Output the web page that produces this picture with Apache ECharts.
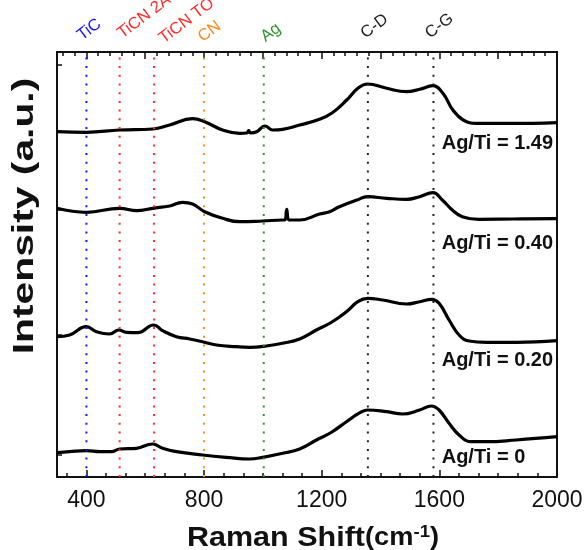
<!DOCTYPE html>
<html><head><meta charset="utf-8">
<script src="https://cdn.jsdelivr.net/npm/echarts@6/dist/echarts.min.js"></script>
<style>html,body{margin:0;padding:0;background:#fff}#c{width:587px;height:550px}</style>
</head><body><div id="c"></div>
<script>
// ---------------- DATA ----------------
const xTickLabels = [400, 800, 1200, 1600, 2000];
const yTickValues = [22, 142, 267, 412];

const seriesNames = ['Ag/Ti = 1.49', 'Ag/Ti = 0.40', 'Ag/Ti = 0.20', 'Ag/Ti = 0'];

const s149_x = [300,400,513,625,683,761,802,863,921,945,952,958,979,1007,1033,1067,1125,1190,1235,1285,1323,1356,1421,1488,1533,1578,1612,1646,1681,1726,1805,1917,2000];
const s149_y = [345.3,344.7,347,348,352,358.3,355.3,347,343.7,344,346.5,344,345.3,351,347,347.7,352,357.5,364,377,388.7,393,388.7,385.3,387.7,391.3,383.7,367,357,353.7,353.7,353.7,354.3];

const s040_x = [300,400,513,571,625,683,727,761,802,863,921,1000,1067,1075,1081,1088,1098,1125,1193,1227,1260,1320,1356,1421,1488,1533,1578,1610,1644,1678,1735,1850,2000];
const s040_y = [268.7,264.7,268.7,266.3,268.7,271,274.7,273,265.3,258.7,255.3,256,257,257,267.7,257,257,257,263,265.3,270.3,277,280.3,278.7,277.7,280.3,284.3,277,267,260.3,257.7,258,258.3];

const s020_x = [300,343,400,434,479,510,536,574,629,659,706,751,795,842,910,955,1012,1067,1125,1182,1232,1284,1323,1356,1407,1488,1533,1574,1599,1633,1667,1701,1761,1862,2000];
const s020_y = [140.3,142,150.3,145.3,143,147,144.7,144.3,152,146.3,140.3,138,135.3,132,130.3,129.7,131,133.7,138,147,154.5,165.3,175.3,178.7,177,173,175.3,177.7,173.7,157,142,136,134.7,134.7,136.3];

const s000_x = [300,343,400,445,485,513,570,625,659,706,795,875,955,1000,1067,1125,1182,1232,1284,1330,1356,1421,1475,1533,1573,1599,1633,1667,1707,1760,1861,2000];
const s000_y = [24.3,25.3,26.3,25.3,25.3,28,28.7,33,28.7,25.3,22,19.7,18,19.7,23.7,28,37,44.5,55.3,64.3,67,65.3,63,67,71,67,53.7,42,35.3,35.3,37,40.3];

const markerNames = ['TiC', 'TiCN 2A', 'TiCN TO', 'CN', 'Ag', 'C-D', 'C-G'];
const markerPos = [400, 513, 630, 800, 1003, 1357, 1580];

// ---------------- STYLE / LAYOUT ----------------
const X_MIN = 300, X_MAX = 2000, Y_MIN = 0, Y_MAX = 425;
const FONT = 'Liberation Sans, Arial, sans-serif';
const markerColors = ['#1414ff', '#ff2a2a', '#ff2a2a', '#ff8a1a', '#2e952e', '#222222', '#222222'];
const markerLabelNudge = [[-2, 8], [5, 10], [12, 5], [1, 6.5], [4, 6.5], [0, 10], [-1, 10]]; // px
const seriesLabelAnchor = [[1608, 334], [1608, 234], [1608, 116.3], [1608, 20]];

const curves = [[s149_x, s149_y], [s040_x, s040_y], [s020_x, s020_y], [s000_x, s000_y]];

function zip(xs, ys) { return xs.map((x, i) => [x, ys[i]]); }
function range(a, b, step) { const r = []; for (let v = a; v <= b + 1e-6; v += step) r.push(+v.toFixed(3)); return r; }

const topMajor = range(400, 2000, 200);
const topMinor = range(320, 2000, 40).filter(v => v % 200 !== 0);
const botMinor = range(333.333, 2000, 400 / 6).filter(v => Math.abs(v / 400 - Math.round(v / 400)) > 0.01);

const axisLine = { show: true, onZero: false, lineStyle: { color: '#111', width: 2 } };
function xAx(pos, ticks, len, showLine, labels) {
  return {
    type: 'value', position: pos, min: X_MIN, max: X_MAX, offset: 0,
    axisLine: showLine ? axisLine : { show: false, onZero: false },
    axisTick: { show: true, inside: true, length: len, customValues: ticks, lineStyle: { color: '#111', width: 1.5 } },
    axisLabel: labels ? { show: true, customValues: labels, fontSize: 23, color: '#111', margin: 12, fontFamily: FONT,
      formatter: v => String(Math.round(v)) } : { show: false },
    splitLine: { show: false }
  };
}

const series = [];
curves.forEach((c, i) => {
  series.push({
    name: seriesNames[i], type: 'line', data: zip(c[0], c[1]), showSymbol: false, symbol: 'none',
    smooth: 0.45,
    lineStyle: { color: '#000', width: 3.2 }, z: 3, xAxisIndex: 0, yAxisIndex: 0
  });
});
markerPos.forEach((x, i) => {
  series.push({
    name: markerNames[i], type: 'line', data: [[x, Y_MIN], [x, Y_MAX]], showSymbol: false, symbol: 'none',
    lineStyle: { color: markerColors[i], width: 2, type: [2, 6.7] }, z: 4, xAxisIndex: 0, yAxisIndex: 0
  });
});

const chart = echarts.init(document.getElementById('c'), null, { renderer: 'canvas' });
chart.setOption({
  animation: false,
  backgroundColor: '#fff',
  grid: { left: 57, right: 30, top: 52, bottom: 73, containLabel: false },
  xAxis: [
    xAx('bottom', xTickLabels, 7, true, xTickLabels),
    xAx('bottom', botMinor, 4, false, null),
    xAx('top', topMajor, 7, true, null),
    xAx('top', topMinor, 4, false, null)
  ],
  yAxis: [
    { type: 'value', position: 'left', min: Y_MIN, max: Y_MAX, offset: 0, axisLine: axisLine,
      axisTick: { show: true, inside: true, length: 5, customValues: yTickValues, lineStyle: { color: '#111', width: 1.5 } },
      axisLabel: { show: false }, splitLine: { show: false } },
    { type: 'value', position: 'right', min: Y_MIN, max: Y_MAX, offset: 0, axisLine: axisLine,
      axisTick: { show: false }, axisLabel: { show: false }, splitLine: { show: false } }
  ],
  series: series
});

// ---------------- TEXT ----------------
const graphics = [];
markerNames.forEach((n, i) => {
  const p = chart.convertToPixel({ xAxisIndex: 0, yAxisIndex: 0 }, [markerPos[i], Y_MAX]);
  graphics.push({
    type: 'text', x: p[0] + markerLabelNudge[i][0], y: p[1] - markerLabelNudge[i][1],
    rotation: 37 * Math.PI / 180, z: 10,
    style: { text: n, fill: markerColors[i], font: '16.5px ' + FONT, align: 'left', verticalAlign: 'bottom' }
  });
});
seriesNames.forEach((n, i) => {
  const p = chart.convertToPixel({ xAxisIndex: 0, yAxisIndex: 0 }, seriesLabelAnchor[i]);
  graphics.push({
    type: 'text', x: p[0], y: p[1], z: 10,
    style: { text: n, fill: '#111', font: 'bold 20px ' + FONT, align: 'left', verticalAlign: 'middle' }
  });
});
graphics.push({
  type: 'text', x: 313, y: 538, scaleX: 1.09, z: 10,
  style: {
    text: '{a|Raman Shift}{b|(cm}{c|-1}{b|)}', align: 'center', verticalAlign: 'middle',
    rich: {
      a: { font: 'bold 28px ' + FONT, fill: '#111' },
      b: { font: 'bold 25px ' + FONT, fill: '#111' },
      c: { font: 'bold 17px ' + FONT, fill: '#111', verticalAlign: 'top' }
    }
  }
});
graphics.push({
  type: 'text', x: 25, y: 216, rotation: Math.PI / 2, scaleX: 1.36, z: 10,
  style: { text: 'Intensity (a.u.)', fill: '#111', font: 'bold 30px ' + FONT, align: 'center', verticalAlign: 'middle' }
});
chart.setOption({ graphic: graphics });
</script>
</body></html>
